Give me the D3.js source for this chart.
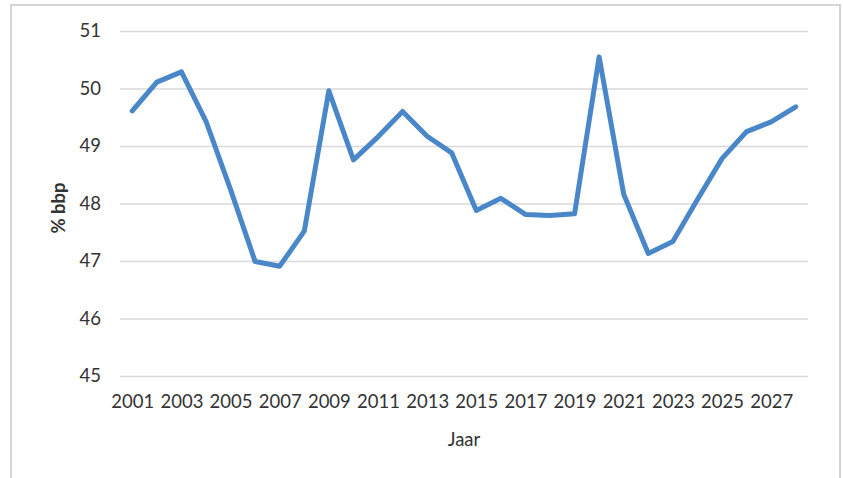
<!DOCTYPE html>
<html>
<head>
<meta charset="utf-8">
<script src="https://cdn.jsdelivr.net/npm/d3@7"></script>
<style>
  html, body { margin: 0; padding: 0; background: #fff; }
  svg { display: block; }
</style>
</head>
<body>
<svg id="chart" width="843" height="478"></svg>
<script>
const years = [2001,2002,2003,2004,2005,2006,2007,2008,2009,2010,2011,2012,2013,2014,
               2015,2016,2017,2018,2019,2020,2021,2022,2023,2024,2025,2026,2027,2028];
const values = [49.61,50.11,50.29,49.43,48.24,46.99,46.91,47.52,49.96,48.76,49.16,49.60,49.17,48.88,
                47.88,48.09,47.81,47.79,47.82,50.55,48.16,47.13,47.34,48.07,48.78,49.25,49.42,49.68];
const yTicks = [45,46,47,48,49,50,51];
const xTickLabels = years.filter((y, i) => i % 2 === 0);
const yTitle = "% bbp";
const xTitle = "Jaar";

const svg = d3.select("#chart");
const W = 843, H = 478;
const m = {left: 120, right: 35, top: 31, bottom: 102};
const iw = W - m.left - m.right, ih = H - m.top - m.bottom;

// outer border
svg.append("rect").attr("x", 11).attr("y", 5).attr("width", 829).attr("height", 490)
  .attr("fill", "none").attr("stroke", "#d4d4d4").attr("stroke-width", 2);

const x = d3.scalePoint().domain(years).range([0, iw]).padding(0.5);
const y = d3.scaleLinear().domain([45, 51]).range([ih, 0]);

const g = svg.append("g").attr("transform", `translate(${m.left},${m.top})`);
const font = "Lato, 'Open Sans', sans-serif";
const textColor = "#333333";

// gridlines
const yAxis = d3.axisLeft(y).tickValues(yTicks).tickSize(-iw).tickPadding(19).tickFormat(d3.format("d"));
const ya = g.append("g").call(yAxis);
ya.select(".domain").remove();
ya.selectAll(".tick line").attr("stroke", "#d9d9d9").attr("stroke-width", 1.6);
ya.selectAll(".tick text").attr("fill", textColor).style("font-family", font).style("font-size", "18.5px");

// x axis labels
const xAxis = d3.axisBottom(x).tickValues(xTickLabels).tickSize(0).tickPadding(19);
const xa = g.append("g").attr("transform", `translate(0,${ih})`).call(xAxis);
xa.select(".domain").remove();
xa.selectAll(".tick text").attr("fill", textColor).style("font-family", font).style("font-size", "18.5px");

// line
const line = d3.line().x((d, i) => x(years[i])).y(d => y(d));
g.append("path").datum(values).attr("d", line)
  .attr("fill", "none").attr("stroke", "#4a87c9").attr("stroke-width", 5)
  .attr("stroke-linejoin", "round").attr("stroke-linecap", "round");

// titles
svg.append("text").attr("x", m.left + iw / 2).attr("y", 446)
  .attr("text-anchor", "middle").attr("fill", textColor)
  .style("font-family", font).style("font-size", "18.5px").text(xTitle);
svg.append("text").attr("transform", "translate(65,208) rotate(-90)")
  .attr("text-anchor", "middle").attr("fill", textColor)
  .style("font-family", font).style("font-size", "18.5px").style("font-weight", "bold").text(yTitle);
</script>
</body>
</html>
